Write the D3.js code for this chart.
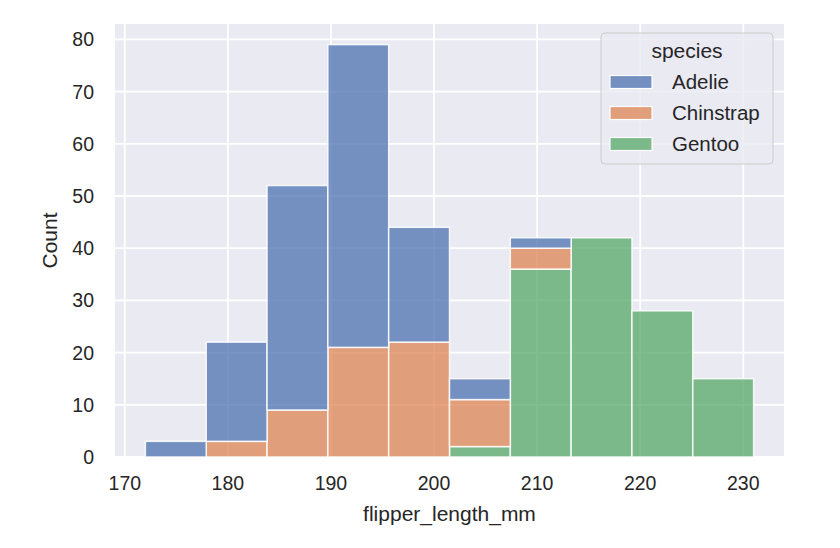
<!DOCTYPE html>
<html>
<head>
<meta charset="utf-8">
<script src="https://cdn.jsdelivr.net/npm/d3@7"></script>
<style>
  html, body { margin: 0; padding: 0; background: #ffffff; }
  svg { display: block; font-family: "Liberation Sans", Arial, sans-serif; }
</style>
</head>
<body>
<div id="chart"></div>
<script>
// Histogram bins: flipper_length 172..231 split in 10 equal bins
const binStart = 172;
const binEnd = 231;
const binCount = 10;

const species = ['Adelie', 'Chinstrap', 'Gentoo'];
// counts per bin
const adelie    = [3, 19, 43, 58, 22, 4, 2, 0, 0, 0];
const chinstrap = [0, 3, 9, 21, 22, 9, 4, 0, 0, 0];
const gentoo    = [0, 0, 0, 0, 0, 2, 36, 42, 28, 15];

const xTicks = [170, 180, 190, 200, 210, 220, 230];
const yTicks = [0, 10, 20, 30, 40, 50, 60, 70, 80];

const colors = { Adelie: '#4c72b0', Chinstrap: '#dd8452', Gentoo: '#55a868' };

const width = 840;
const height = 548;
const margin = { top: 24, right: 56, bottom: 91, left: 115 };
const innerW = width - margin.left - margin.right;
const innerH = height - margin.top - margin.bottom;

const binWidth = (binEnd - binStart) / binCount;
const bins = d3.range(binCount).map(i => ({
  x0: binStart + i * binWidth,
  x1: binStart + (i + 1) * binWidth,
  Adelie: adelie[i],
  Chinstrap: chinstrap[i],
  Gentoo: gentoo[i]
}));

// Gentoo at the bottom, Adelie on top (seaborn stack order)
const stack = d3.stack().keys(['Gentoo', 'Chinstrap', 'Adelie']);
const layers = stack(bins);

const totals = bins.map(b => b.Adelie + b.Chinstrap + b.Gentoo);
const pad = (binEnd - binStart) * 0.05;

const x = d3.scaleLinear()
  .domain([binStart - pad, binEnd + pad])
  .range([0, innerW]);

const y = d3.scaleLinear()
  .domain([0, d3.max(totals) * 1.05])
  .range([innerH, 0]);

const svg = d3.select('#chart').append('svg')
  .attr('width', width)
  .attr('height', height)
  .attr('viewBox', [0, 0, width, height]);

const g = svg.append('g')
  .attr('transform', `translate(${margin.left},${margin.top})`);

// Axes background
g.append('rect')
  .attr('width', innerW)
  .attr('height', innerH)
  .attr('fill', '#eaeaf2');

// Grid
g.append('g')
  .selectAll('line')
  .data(xTicks)
  .join('line')
  .attr('x1', d => x(d))
  .attr('x2', d => x(d))
  .attr('y1', 0)
  .attr('y2', innerH)
  .attr('stroke', '#ffffff')
  .attr('stroke-width', 1.8);

g.append('g')
  .selectAll('line')
  .data(yTicks)
  .join('line')
  .attr('x1', 0)
  .attr('x2', innerW)
  .attr('y1', d => y(d))
  .attr('y2', d => y(d))
  .attr('stroke', '#ffffff')
  .attr('stroke-width', 1.8);

// Stacked bars
g.append('g')
  .selectAll('g')
  .data(layers)
  .join('g')
  .attr('fill', d => colors[d.key])
  .selectAll('rect')
  .data(d => d.filter(s => s[1] - s[0] > 0))
  .join('rect')
  .attr('x', d => x(d.data.x0))
  .attr('width', d => x(d.data.x1) - x(d.data.x0))
  .attr('y', d => y(d[1]))
  .attr('height', d => y(d[0]) - y(d[1]))
  .attr('fill-opacity', 0.75)
  .attr('stroke', '#ffffff')
  .attr('stroke-opacity', 0.85)
  .attr('stroke-width', 1.5);

// Tick labels
const tickFont = 19.5;
g.append('g')
  .selectAll('text')
  .data(xTicks)
  .join('text')
  .attr('x', d => x(d))
  .attr('y', innerH + 33)
  .attr('text-anchor', 'middle')
  .attr('font-size', tickFont)
  .attr('fill', '#262626')
  .text(d => d);

g.append('g')
  .selectAll('text')
  .data(yTicks)
  .join('text')
  .attr('x', -21)
  .attr('y', d => y(d))
  .attr('dy', '0.36em')
  .attr('text-anchor', 'end')
  .attr('font-size', tickFont)
  .attr('fill', '#262626')
  .text(d => d);

// Axis labels
g.append('text')
  .attr('x', innerW / 2)
  .attr('y', innerH + 64)
  .attr('text-anchor', 'middle')
  .attr('font-size', 21)
  .attr('fill', '#262626')
  .text('flipper_length_mm');

g.append('text')
  .attr('transform', `translate(${-58},${innerH / 2}) rotate(-90)`)
  .attr('text-anchor', 'middle')
  .attr('font-size', 21)
  .attr('fill', '#262626')
  .text('Count');

// Legend
const legend = svg.append('g')
  .attr('transform', 'translate(601,33)');

legend.append('rect')
  .attr('width', 172)
  .attr('height', 131)
  .attr('rx', 4)
  .attr('fill', '#eaeaf2')
  .attr('fill-opacity', 0.8)
  .attr('stroke', '#cccccc')
  .attr('stroke-width', 1);

legend.append('text')
  .attr('x', 86)
  .attr('y', 25)
  .attr('text-anchor', 'middle')
  .attr('font-size', 21)
  .attr('fill', '#262626')
  .text('species');

const items = legend.selectAll('g.item')
  .data(species)
  .join('g')
  .attr('class', 'item')
  .attr('transform', (d, i) => `translate(9, ${42.5 + i * 31})`);

items.append('rect')
  .attr('width', 42)
  .attr('height', 13)
  .attr('fill', d => colors[d])
  .attr('fill-opacity', 0.75)
  .attr('stroke', '#ffffff')
  .attr('stroke-width', 1.2);

items.append('text')
  .attr('x', 62)
  .attr('y', 6.5)
  .attr('dy', '0.36em')
  .attr('font-size', 20.5)
  .attr('fill', '#262626')
  .text(d => d);
</script>
</body>
</html>
